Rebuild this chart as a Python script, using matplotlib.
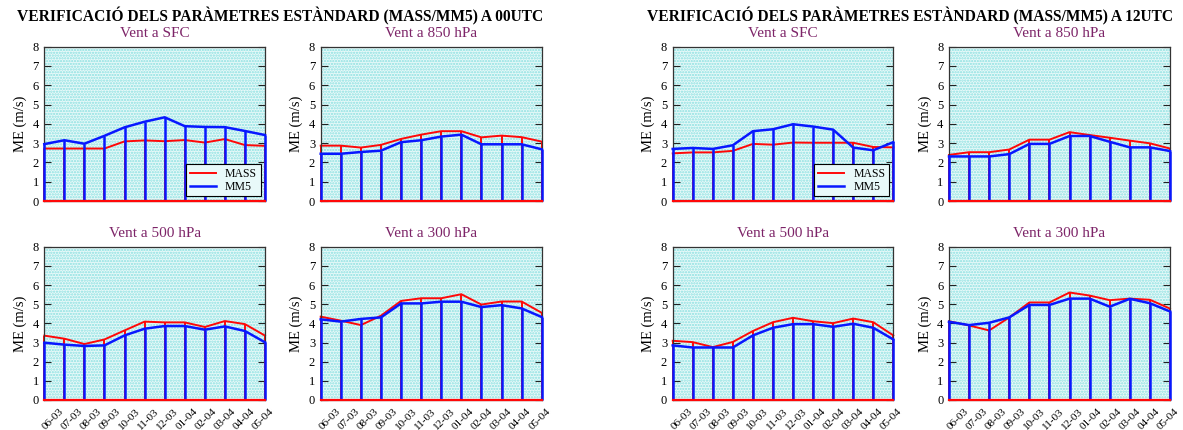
import matplotlib
matplotlib.use("Agg")
import matplotlib.pyplot as plt
from matplotlib.patches import Rectangle
from matplotlib.transforms import ScaledTranslation
import numpy as np

plt.rcParams["font.family"] = ["Liberation Serif", "DejaVu Serif"]
plt.rcParams["hatch.linewidth"] = 1.1

months = ["06-03", "07-03", "08-03", "09-03", "10-03", "11-03",
          "12-03", "01-04", "02-04", "03-04", "04-04", "05-04"]

# 00 UTC mean error of wind (m/s)
sfc00_mass = [2.72, 2.72, 2.72, 2.72, 3.09, 3.14, 3.10, 3.16, 3.03, 3.21, 2.90, 2.86]
sfc00_mm5 = [2.95, 3.15, 2.97, 3.38, 3.82, 4.11, 4.34, 3.88, 3.84, 3.83, 3.63, 3.42]
p850_00_mass = [2.87, 2.87, 2.77, 2.91, 3.22, 3.44, 3.62, 3.62, 3.30, 3.39, 3.31, 3.08]
p850_00_mm5 = [2.45, 2.45, 2.54, 2.61, 3.05, 3.15, 3.34, 3.44, 2.94, 2.94, 2.94, 2.68]
p500_00_mass = [3.36, 3.20, 2.92, 3.16, 3.63, 4.09, 4.05, 4.05, 3.81, 4.12, 3.96, 3.36]
p500_00_mm5 = [2.99, 2.89, 2.82, 2.85, 3.37, 3.72, 3.86, 3.86, 3.67, 3.84, 3.60, 3.01]
p300_00_mass = [4.35, 4.14, 3.91, 4.40, 5.17, 5.31, 5.31, 5.52, 4.98, 5.14, 5.14, 4.55]
p300_00_mm5 = [4.21, 4.09, 4.23, 4.31, 5.04, 5.04, 5.13, 5.13, 4.85, 4.95, 4.78, 4.33]

# 12 UTC mean error of wind (m/s)
sfc12_mass = [2.47, 2.52, 2.52, 2.60, 2.96, 2.92, 3.03, 3.02, 3.02, 3.02, 2.80, 2.78]
sfc12_mm5 = [2.70, 2.75, 2.70, 2.89, 3.62, 3.72, 3.98, 3.86, 3.70, 2.77, 2.63, 3.05]
p850_12_mass = [2.39, 2.53, 2.53, 2.67, 3.18, 3.18, 3.57, 3.42, 3.28, 3.13, 2.99, 2.72]
p850_12_mm5 = [2.31, 2.31, 2.31, 2.43, 2.96, 2.96, 3.37, 3.37, 3.07, 2.78, 2.78, 2.59]
p500_12_mass = [3.09, 3.02, 2.76, 3.03, 3.60, 4.06, 4.29, 4.11, 4.01, 4.25, 4.06, 3.37]
p500_12_mm5 = [2.85, 2.74, 2.74, 2.74, 3.37, 3.77, 3.96, 3.96, 3.82, 3.98, 3.77, 3.16]
p300_12_mass = [4.11, 3.89, 3.63, 4.31, 5.09, 5.09, 5.61, 5.45, 5.21, 5.29, 5.23, 4.77]
p300_12_mm5 = [4.08, 3.91, 4.03, 4.31, 4.96, 4.96, 5.29, 5.29, 4.87, 5.28, 5.05, 4.62]

W, H = 1183, 430
fig = plt.figure(figsize=(W / 100, H / 100), dpi=100)

BG = "#e8f9f9"
DOTS = "#8ae0e0"
PURPLE = "#7d2468"
RED = "#ff0808"
BLUE = "#0818ff"


def frac(x0, x1, ytop, ybot):
    return [x0 / W, 1 - ybot / H, (x1 - x0) / W, (ybot - ytop) / H]


def panel(box, title, mass, mm5, bottom_labels, legend=False):
    ax = fig.add_axes(frac(*box))
    x = np.arange(len(months))
    ax.set_facecolor(BG)
    # dotted plot background
    ax.add_patch(Rectangle((0, 0), 1, 1, transform=ax.transAxes, facecolor="none",
                           edgecolor=DOTS, hatch="......", lw=0, zorder=0.5))
    ax.vlines(x, 0, mass, color=RED, lw=1.4, clip_on=False, zorder=2)
    ax.plot(x, mass, color=RED, lw=1.4, clip_on=False, zorder=2, label="MASS")
    ax.vlines(x, 0, mm5, color=BLUE, lw=1.8, clip_on=False, zorder=3)
    ax.plot(x, mm5, color=BLUE, lw=1.8, clip_on=False, zorder=3, label="MM5")
    ax.axhline(0, color=RED, lw=1.6, clip_on=False, zorder=4)
    ax.set_xlim(0, len(months) - 1)
    ax.set_ylim(0, 8)
    ax.set_yticks(range(0, 9))
    ax.tick_params(axis="y", direction="in", left=True, right=True,
                   length=5, width=0.8, labelsize=9, pad=4, colors="#222222")
    ax.tick_params(axis="y", labelcolor="black")
    ax.set_xticks(x)
    ax.tick_params(axis="x", length=0, labelsize=8, pad=2)
    if bottom_labels:
        ax.set_xticklabels(months, rotation=45, ha="right", va="center",
                           rotation_mode="anchor")
        for i, lab in enumerate(ax.get_xticklabels()):
            off = ScaledTranslation((18 - i) / 100, -7 / 100, fig.dpi_scale_trans)
            lab.set_transform(lab.get_transform() + off)
    else:
        ax.set_xticklabels([])
    for s in ax.spines.values():
        s.set_color("#333333")
        s.set_linewidth(0.9)
    ax.set_ylabel("ME (m/s)", fontsize=10.5, labelpad=4)
    ax.set_title(title, color=PURPLE, fontsize=11, pad=7)
    if legend:
        leg = ax.legend(loc="lower right", fontsize=8.5, frameon=True, fancybox=False,
                        edgecolor="black", framealpha=1, facecolor=BG,
                        handlelength=2.2, borderpad=0.3, labelspacing=0.1,
                        bbox_to_anchor=(0.98, 0.03), borderaxespad=0)
        leg.get_frame().set_linewidth(0.8)
    return ax


top = (46.7, 201)
bot = (246.7, 400)
colsL = [(44.3, 265), (320.7, 541.7)]
colsR = [(672.7, 893.3), (949, 1170)]

panel((*colsL[0], *top), "Vent a SFC", sfc00_mass, sfc00_mm5, False, legend=True)
panel((*colsL[1], *top), "Vent a 850 hPa", p850_00_mass, p850_00_mm5, False)
panel((*colsL[0], *bot), "Vent a 500 hPa", p500_00_mass, p500_00_mm5, True)
panel((*colsL[1], *bot), "Vent a 300 hPa", p300_00_mass, p300_00_mm5, True)

panel((*colsR[0], *top), "Vent a SFC", sfc12_mass, sfc12_mm5, False, legend=True)
panel((*colsR[1], *top), "Vent a 850 hPa", p850_12_mass, p850_12_mm5, False)
panel((*colsR[0], *bot), "Vent a 500 hPa", p500_12_mass, p500_12_mm5, True)
panel((*colsR[1], *bot), "Vent a 300 hPa", p300_12_mass, p300_12_mm5, True)

fig.text(280 / W, 1 - 16 / H, "VERIFICACIÓ DELS PARÀMETRES ESTÀNDARD (MASS/MM5) A 00UTC",
         ha="center", va="center", fontsize=11.2, fontweight="bold")
fig.text(910 / W, 1 - 16 / H, "VERIFICACIÓ DELS PARÀMETRES ESTÀNDARD (MASS/MM5) A 12UTC",
         ha="center", va="center", fontsize=11.2, fontweight="bold")

fig.savefig("out.png", dpi=100, facecolor="white")
